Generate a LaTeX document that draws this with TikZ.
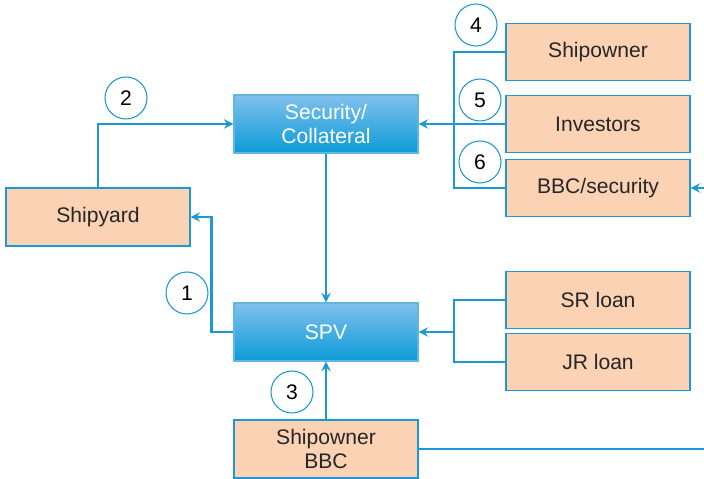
\documentclass[tikz,border=0pt]{standalone}
\usepackage{fontspec}
\setmainfont{Liberation Sans}
\usepackage{tikz}
\definecolor{flowblue}{RGB}{30,152,210}
\definecolor{peach}{RGB}{251,210,180}
\definecolor{skytop}{RGB}{128,192,236}
\definecolor{skybottom}{RGB}{12,155,216}
\tikzset{%
	every party/.style={
		rectangle,
		draw=flowblue,
		line width=0.6pt,
		fill=peach,
		text=black!85,
		minimum width=3.68cm,
		minimum height=1.15cm,
		align=center,
		font=\fontsize{12}{14}\selectfont
	},
	every vehicle/.style={
		rectangle,
		draw=flowblue!70,
		line width=0.6pt,
		top color=skytop,
		bottom color=skybottom,
		text=white,
		minimum width=3.68cm,
		minimum height=1.16cm,
		align=center,
		font=\fontsize{12}{14}\selectfont
	},
	stepcircle/.style={
		circle,
		draw=flowblue,
		line width=0.6pt,
		fill=white,
		minimum size=0.84cm,
		inner sep=0pt,
		font=\fontsize{12}{14}\selectfont
	},
	flow/.style={
		draw=flowblue,
		line width=1.4pt
	},
}

\begin{document}
\begin{tikzpicture}[x=0.02cm, y=-0.02cm, >=stealth]
		
		\useasboundingbox (0,0) rectangle (704,479);
		
		% middle column
		\node [every vehicle/.try] (security) at (326,124) {Security/\\Collateral};
		\node [every vehicle/.try] (spv) at (326,332) {SPV};
		\node [every party/.try, minimum height=1.16cm] (shipbbc) at (326,449) {Shipowner\\BBC};
		\node [every party/.try, minimum height=1.16cm] (shipyard) at (98,217) {Shipyard};
		
		% right column
		\foreach \n/\l/\y in {owner/Shipowner/52, investors/Investors/124, bbcsec/BBC\slash security/188, sr/SR loan/300, jr/JR loan/362}
		\node [every party/.try] (\n) at (598,\y) {\l};
		
		% numbered steps
		\foreach \l/\x/\y in {1/187/293, 2/126/98, 3/292/392, 4/476/25, 5/480/100, 6/480/162}
		\node [stepcircle] (step-\l) at (\x,\y) {\l};
		
		\coordinate (ownerbus) at (454,124);
		\coordinate (loanbus) at (454,332);
		\coordinate (edge-low) at (704,449);
		\coordinate (edge-high) at (704,188);
		
		\draw [flow, ->] (shipyard.north) |- (security.west);
		\draw [flow, ->] (spv.west) -- ++(-22,0) |- (shipyard.east);
		\draw [flow, ->] (security.south) -- (spv.north);
		\draw [flow, ->] (shipbbc.north) -- (spv.south);
		
		\draw [flow] (owner.west) -| (ownerbus) |- (bbcsec.west);
		\draw [flow] (investors.west) -- (ownerbus);
		\draw [flow, ->] (ownerbus) -- (security.east);
		
		\draw [flow] (sr.west) -| (loanbus) |- (jr.west);
		\draw [flow, ->] (loanbus) -- (spv.east);
		
		\draw [flow] (shipbbc.east) -- (edge-low);
		\draw [flow, ->] (edge-high) -- (bbcsec.east);
		
\end{tikzpicture}
\end{document}
